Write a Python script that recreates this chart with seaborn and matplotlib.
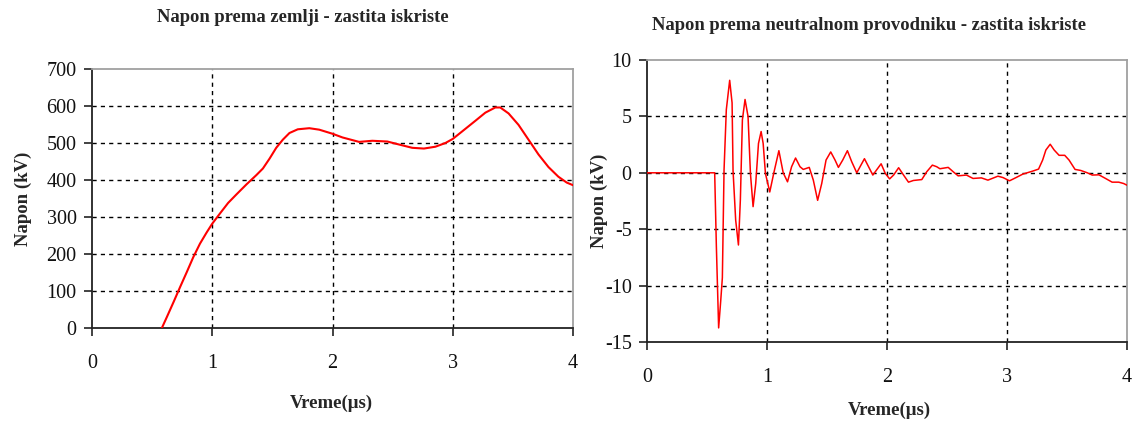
import matplotlib
matplotlib.use("Agg")
import matplotlib.pyplot as plt
import seaborn as sns
import pandas as pd

# ---------------- data ----------------
# Left chart: voltage to ground (kV) vs time (us)
t_ground = [0.581, 0.623, 0.678, 0.733, 0.788, 0.843, 0.898, 0.953, 1.0, 1.063,
            1.132, 1.201, 1.284, 1.366, 1.421, 1.477, 1.532, 1.587, 1.642, 1.711,
            1.807, 1.89, 2.0, 2.083, 2.221, 2.331, 2.456, 2.552, 2.663, 2.76,
            2.856, 2.939, 3.0, 3.077, 3.188, 3.271, 3.354, 3.395, 3.464, 3.547,
            3.63, 3.713, 3.796, 3.878, 3.948, 4.0]
v_ground = [0, 30, 70, 111, 151, 192, 228, 258, 282, 309,
            338, 361, 388, 413, 431, 458, 487, 509, 527, 537,
            540, 536, 525, 515, 503, 506, 504, 496, 487, 485,
            490, 500, 511, 531, 560, 582, 596, 596, 580, 549,
            509, 469, 435, 409, 393, 386]

# Right chart: voltage to neutral conductor (kV) vs time (us)
t_neutral = [0.0, 0.564, 0.578, 0.597, 0.614, 0.628, 0.642, 0.661, 0.689, 0.709,
             0.717, 0.739, 0.762, 0.778, 0.795, 0.817, 0.842, 0.862, 0.884, 0.906,
             0.929, 0.951, 0.968, 0.987, 1.023, 1.057, 1.099, 1.135, 1.171, 1.205,
             1.238, 1.275, 1.302, 1.352, 1.386, 1.422, 1.456, 1.492, 1.531, 1.567,
             1.595, 1.631, 1.670, 1.706, 1.748, 1.812, 1.882, 1.951, 1.986, 2.022,
             2.055, 2.097, 2.138, 2.179, 2.22, 2.29, 2.331, 2.378, 2.414, 2.441,
             2.51, 2.552, 2.593, 2.662, 2.717, 2.786, 2.841, 2.924, 2.966, 3.021,
             3.076, 3.131, 3.214, 3.263, 3.297, 3.324, 3.36, 3.393, 3.434, 3.481,
             3.517, 3.567, 3.614, 3.669, 3.71, 3.766, 3.821, 3.876, 3.931, 3.972, 4.0]
v_neutral = [0.0, 0.0, -6.5, -13.75, -11.4, -9.3, 0.24, 5.6, 8.2, 6.2,
             0.2, -4.2, -6.4, -2.4, 4.7, 6.5, 5.0, -0.06, -3.0, -0.95,
             2.6, 3.66, 2.6, -0.06, -1.7, 0.0, 1.96, 0.0, -0.8, 0.54,
             1.31, 0.54, 0.3, 0.48, -0.65, -2.44, -0.95, 1.13, 1.85, 1.13,
             0.48, 1.13, 1.96, 0.98, 0.0, 1.25, -0.2, 0.8, -0.06, -0.54,
             -0.2, 0.45, -0.2, -0.83, -0.68, -0.6, 0.09, 0.68, 0.54, 0.36,
             0.48, 0.09, -0.27, -0.2, -0.5, -0.45, -0.65, -0.3, -0.42, -0.71,
             -0.42, -0.12, 0.15, 0.33, 1.13, 2.02, 2.53, 2.02, 1.55, 1.55,
             1.13, 0.3, 0.21, 0.0, -0.2, -0.18, -0.5, -0.83, -0.83, -0.95, -1.1]

titles = ["Napon prema zemlji - zastita iskriste",
          "Napon prema neutralnom provodniku - zastita iskriste"]
x_label = "Vreme(\u03bcs)"
y_label = "Napon (kV)"
x_ticks = [0, 1, 2, 3, 4]
y_ticks_left = [0, 100, 200, 300, 400, 500, 600, 700]
y_ticks_right = [-15, -10, -5, 0, 5, 10]

# ---------------- style ----------------
sns.set_style("white")
plt.rcParams["font.family"] = ["Liberation Serif", "DejaVu Serif"]

W, H = 1134, 423
fig = plt.figure(figsize=(W / 100, H / 100), dpi=100)

def px_axes(x0, x1, ytop, ybot):
    return fig.add_axes([x0 / W, 1 - ybot / H, (x1 - x0) / W, (ybot - ytop) / H])

axL = px_axes(92, 573, 69, 328)
axR = px_axes(647, 1127, 60, 342)

df_g = pd.DataFrame({"t": t_ground, "v": v_ground})
df_n = pd.DataFrame({"t": t_neutral, "v": v_neutral})

sns.lineplot(data=df_g, x="t", y="v", ax=axL, color="#ff0000", linewidth=1.5,
             estimator=None, sort=False, zorder=5)
sns.lineplot(data=df_n, x="t", y="v", ax=axR, color="#ff0000", linewidth=1.1,
             estimator=None, sort=False, zorder=5)

def style(ax, yticks, grid_y):
    ax.set_xlim(0, 4)
    ax.set_ylim(yticks[0], yticks[-1])
    ax.set_xticks(x_ticks)
    ax.set_yticks(yticks)
    ax.set_xticklabels([str(v) for v in x_ticks])
    ax.set_yticklabels([str(v) for v in yticks])
    for gx in [1, 2, 3]:
        ax.axvline(gx, color="black", linewidth=1.0, linestyle=(0, (3, 3)), zorder=1)
    for gy in grid_y:
        ax.axhline(gy, color="black", linewidth=1.0, linestyle=(0, (3, 3)), zorder=1)
    for s in ["left", "bottom"]:
        ax.spines[s].set_color("#222222")
        ax.spines[s].set_linewidth(1.3)
    for s in ["top", "right"]:
        ax.spines[s].set_color("#a0a0a0")
        ax.spines[s].set_linewidth(1.3)
    ax.tick_params(axis="both", direction="out", length=6, width=1.2, color="#222222",
                   labelsize=14.5, labelcolor="#111111", left=True, bottom=True)
    ax.tick_params(axis="x", pad=13)
    ax.tick_params(axis="y", pad=5)
    ax.set_xlabel(x_label, fontsize=13.5, fontweight="bold")
    ax.set_ylabel(y_label, fontsize=13.5, fontweight="bold")

style(axL, y_ticks_left, [100, 200, 300, 400, 500, 600])
style(axR, y_ticks_right, [-10, -5, 0, 5])

axL.xaxis.set_label_coords((331 - 92) / 481, (328 - 395) / 259)
axL.yaxis.set_label_coords((32 - 92) / 481, 0.5)
axR.xaxis.set_label_coords((889 - 647) / 480, (342 - 402) / 282)
axR.yaxis.set_label_coords((608 - 647) / 480, 0.5)

fig.text(303 / W, 1 - 18 / H, titles[0], ha="center", va="center",
         fontsize=13.4, fontweight="bold")
fig.text(869 / W, 1 - 26 / H, titles[1], ha="center", va="center",
         fontsize=13.4, fontweight="bold")

fig.savefig("out.png", dpi=100, facecolor="white")
